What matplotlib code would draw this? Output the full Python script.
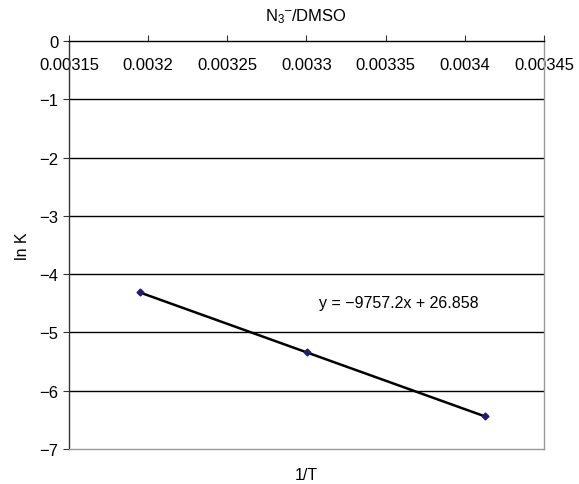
import numpy as np
import matplotlib
matplotlib.use("Agg")
import matplotlib.pyplot as plt

plt.rcParams['font.family'] = ['Liberation Sans', 'DejaVu Sans']
plt.rcParams['mathtext.fontset'] = 'custom'
plt.rcParams['mathtext.rm'] = 'Liberation Sans'
plt.rcParams['mathtext.default'] = 'regular'

# data
inv_T = [1/313.0, 1/303.0, 1/293.0]
ln_K = [-4.30, -5.33, -6.43]
slope = -9757.2
intercept = 26.858
x_ticks = [0.00315, 0.0032, 0.00325, 0.0033, 0.00335, 0.0034, 0.00345]
x_labels = ['0.00315', '0.0032', '0.00325', '0.0033', '0.00335', '0.0034', '0.00345']
y_ticks = [0, -1, -2, -3, -4, -5, -6, -7]

fig = plt.figure(figsize=(5.79, 4.85), dpi=100)
ax = fig.add_axes([69/579, 35/485, 475/579, 408/485])

# trendline
xl = np.array([inv_T[0], inv_T[-1]])
ax.plot(xl, slope*xl + intercept, color='black', lw=1.8, zorder=3)
ax.plot(inv_T, ln_K, linestyle='none', marker='D', ms=3.5, color='#1f1f6e', zorder=4)

ax.set_xlim(0.00315, 0.00345)
ax.set_ylim(-7, 0)
ax.set_yticks(y_ticks)
ax.set_xticks(x_ticks)
ax.set_xticklabels(x_labels)
for y in y_ticks[1:-1]:
    ax.axhline(y, color='black', lw=1.0, zorder=1)

ax.tick_params(axis='x', top=True, bottom=False, labeltop=True, labelbottom=False,
               direction='out', length=4, pad=-26, labelsize=12, color='#333333')
ax.tick_params(axis='y', direction='out', length=4, labelsize=12, color='#333333')

ax.spines['top'].set_color('black')
ax.spines['left'].set_color('#333333')
ax.spines['bottom'].set_color('#999999')
ax.spines['right'].set_color('#999999')
for s in ax.spines.values():
    s.set_linewidth(1.0)

ax.text(0.003308, -4.48, 'y = \u22129757.2x + 26.858', fontsize=11.5, va='center', ha='left')
ax.set_ylabel('ln K', fontsize=11.5, labelpad=7)
ax.set_xlabel('1/T', fontsize=11.5, labelpad=13)
fig.text(306/579, 1 - 17/485, 'N$_3$$^{\u2013}$/DMSO', fontsize=12, ha='center', va='center')

fig.savefig('out.png', dpi=100)
